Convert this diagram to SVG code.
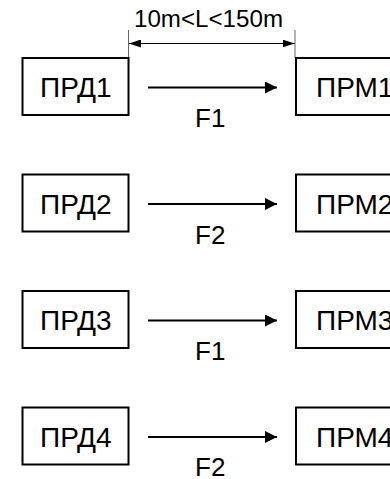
<svg xmlns="http://www.w3.org/2000/svg" width="390" height="479" viewBox="0 0 390 479">
  <defs>
    <style>
      .box { fill: #ffffff; stroke: #000000; stroke-width: 2; }
      .lbl { font-family: "Liberation Sans", Arial, sans-serif; font-size: 28px; fill: #000000; }
      .freq { font-family: "Liberation Sans", Arial, sans-serif; font-size: 26px; fill: #000000; }
      .dim { font-family: "Liberation Sans", Arial, sans-serif; font-size: 23px; fill: #000000; }
      .link { stroke: #000000; stroke-width: 2; fill: none; marker-end: url(#arrow); }
      .ext { stroke: #666666; stroke-width: 1; fill: none; }
      .dimline { stroke: #000000; stroke-width: 1; fill: none; marker-start: url(#dimArrowStart); marker-end: url(#dimArrowEnd); }
    </style>
    <marker id="arrow" markerWidth="12" markerHeight="12" refX="12" refY="6" orient="auto" markerUnits="userSpaceOnUse">
      <path d="M0,0 L12,6 L0,12 Z" fill="#000000"/>
    </marker>
    <marker id="dimArrowEnd" markerWidth="12" markerHeight="8" refX="12" refY="4" orient="auto" markerUnits="userSpaceOnUse">
      <path d="M0,0 L12,4 L0,8 Z" fill="#000000"/>
    </marker>
    <marker id="dimArrowStart" markerWidth="12" markerHeight="8" refX="0" refY="4" orient="auto" markerUnits="userSpaceOnUse">
      <path d="M12,0 L0,4 L12,8 Z" fill="#000000"/>
    </marker>
  </defs>

  <rect width="390" height="479" fill="#ffffff"/>

  <!-- distance dimension between transmitter and receiver -->
  <g id="dimension">
    <line class="ext" x1="128.5" y1="30" x2="128.5" y2="58"/>
    <line class="ext" x1="295" y1="30" x2="295" y2="58"/>
    <line class="dimline" x1="129" y1="43.5" x2="294.5" y2="43.5"/>
    <text class="dim" x="134" y="27" textLength="149" lengthAdjust="spacingAndGlyphs">10m&lt;L&lt;150m</text>
  </g>

  <!-- transmitters -->
  <g id="tx1"><rect class="box" x="22.5" y="58" width="106" height="57"/><text class="lbl" x="40" y="97">ПРД1</text></g>
  <g id="tx2"><rect class="box" x="22.5" y="174.5" width="106" height="57"/><text class="lbl" x="40" y="213.5">ПРД2</text></g>
  <g id="tx3"><rect class="box" x="22.5" y="291" width="106" height="57"/><text class="lbl" x="40" y="330">ПРД3</text></g>
  <g id="tx4"><rect class="box" x="22.5" y="407.5" width="106" height="57"/><text class="lbl" x="40" y="446.5">ПРД4</text></g>

  <!-- receivers -->
  <g id="rx1"><rect class="box" x="296" y="58" width="120" height="57"/><text class="lbl" x="316" y="97">ПРМ1</text></g>
  <g id="rx2"><rect class="box" x="296" y="174.5" width="120" height="57"/><text class="lbl" x="316" y="213.5">ПРМ2</text></g>
  <g id="rx3"><rect class="box" x="296" y="291" width="120" height="57"/><text class="lbl" x="316" y="330">ПРМ3</text></g>
  <g id="rx4"><rect class="box" x="296" y="407.5" width="120" height="57"/><text class="lbl" x="316" y="446.5">ПРМ4</text></g>

  <!-- radio links with frequency labels -->
  <g id="connectors">
    <line class="link" x1="148" y1="87.5" x2="277" y2="87.5"/>
    <text class="freq" x="195" y="127">F1</text>
    <line class="link" x1="148" y1="204" x2="277" y2="204"/>
    <text class="freq" x="195" y="243.5">F2</text>
    <line class="link" x1="148" y1="320.5" x2="277" y2="320.5"/>
    <text class="freq" x="195" y="360">F1</text>
    <line class="link" x1="148" y1="437" x2="277" y2="437"/>
    <text class="freq" x="195" y="475.5">F2</text>
  </g>
</svg>
